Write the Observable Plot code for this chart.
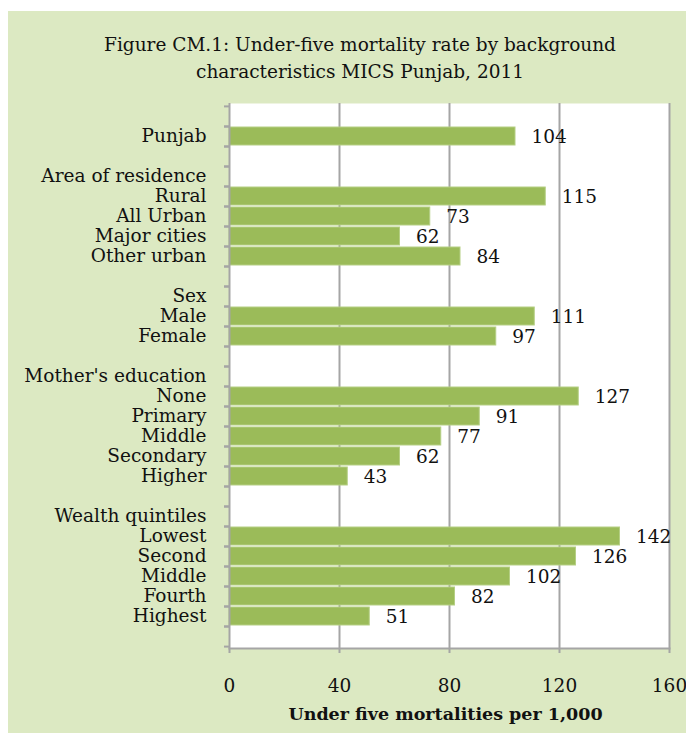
<!DOCTYPE html>
<html>
<head>
<meta charset="utf-8">
<script src="https://cdn.jsdelivr.net/npm/d3@7"></script>
<script src="https://cdn.jsdelivr.net/npm/@observablehq/plot@0.6"></script>
<style>
  html, body { margin: 0; padding: 0; background: #ffffff; overflow: hidden; }
  #page { position: relative; width: 686px; height: 733px; }
  #bg { position: absolute; left: 8px; top: 11px; width: 678px; height: 722px; background: #dce9c2; }
  #title { position: absolute; left: 60px; width: 600px; top: 31px; text-align: center; white-space: nowrap;
           font-family: "DejaVu Serif", serif; font-size: 18.5px; line-height: 27px; color: #111; }
  #chart { position: absolute; left: 0; top: 0; }
</style>
</head>
<body>
<div id="page">
  <div id="bg"></div>
  <div id="title">Figure CM.1: Under-five mortality rate by background<br>characteristics MICS Punjab, 2011</div>
  <div id="chart"></div>
</div>
<script>
const categories = ["", "Punjab", "", "Area of residence", "Rural", "All Urban", "Major cities", "Other urban", "",
  "Sex", "Male", "Female", "", "Mother's education", "None", "Primary", "Middle", "Secondary", "Higher", "",
  "Wealth quintiles", "Lowest", "Second", "Middle", "Fourth", "Highest", ""];
const values = [null, 104, null, null, 115, 73, 62, 84, null,
  null, 111, 97, null, null, 127, 91, 77, 62, 43, null,
  null, 142, 126, 102, 82, 51, null];
const xTicks = [0, 40, 80, 120, 160];
const gridValues = [40, 80, 120, 160];
const xLabel = "Under five mortalities per 1,000";

const rows = categories.map((c, i) => ({key: i, label: c, value: values[i]}));
const bars = rows.filter(d => d.value != null);
const keys = rows.map(d => d.key);

const W = 686, H = 733;
const mL = 229, mR = 17, mT = 103, mB = 85;
const bw = (H - mT - mB) / keys.length;
const gray = "#a5a5a5";
const fs = 18.5;

const chart = Plot.plot({
  width: W,
  height: H,
  marginLeft: mL,
  marginRight: mR,
  marginTop: mT,
  marginBottom: mB,
  style: {background: "transparent", fontFamily: "DejaVu Serif, serif", fontSize: fs + "px", color: "#111"},
  x: {domain: [0, 160], axis: null},
  y: {domain: keys, padding: 0, axis: null},
  marks: [
    Plot.frame({fill: "white", stroke: null}),
    Plot.ruleX(gridValues, {stroke: gray, strokeWidth: 2}),
    Plot.barX(bars, {x: "value", y: "key", fill: "#9bbb59", stroke: "#b5cf84", strokeWidth: 1, insetTop: 1, insetBottom: 1}),
    Plot.text(bars, {x: "value", y: "key", text: d => String(d.value), dx: 16, dy: 1, textAnchor: "start", fill: "#111", fontSize: fs}),
    Plot.axisY({ticks: keys, tickSize: 5, tickFormat: () => "", label: null, dy: -bw / 2, stroke: gray, strokeWidth: 2}),
    Plot.axisY({ticks: keys, tickSize: 5, tickFormat: () => "", label: null, dy: bw / 2, stroke: gray, strokeWidth: 2}),
    Plot.axisY({ticks: keys, tickSize: 0, tickPadding: 23, label: null, tickFormat: i => categories[i], fontSize: fs, fill: "#111"}),
    Plot.ruleX([0], {stroke: gray, strokeWidth: 2}),
    Plot.frame({anchor: "bottom", stroke: gray, strokeWidth: 2}),
    Plot.axisX({ticks: xTicks, tickSize: 5, tickPadding: 25, stroke: gray, strokeWidth: 2, fontSize: fs, fill: "#111", label: null}),
    Plot.text([xLabel], {frameAnchor: "bottom", dy: 71, dx: -4, text: d => d, fontWeight: "bold", fontSize: 17.5, fill: "#111"})
  ]
});
document.getElementById("chart").appendChild(chart);
</script>
</body>
</html>
